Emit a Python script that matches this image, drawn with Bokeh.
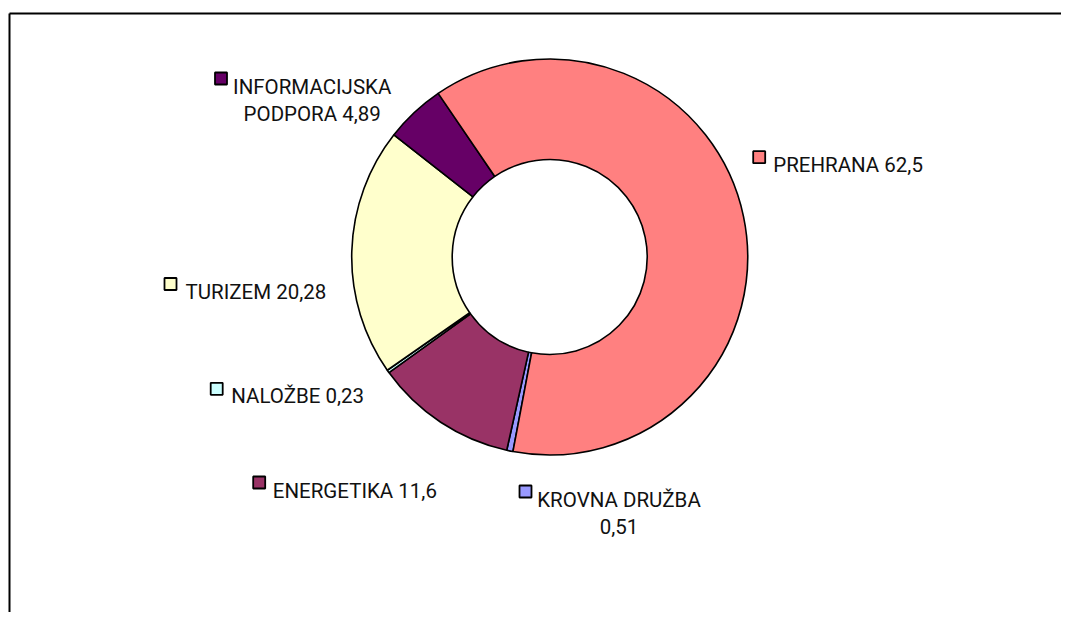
import math
from bokeh.plotting import figure
from bokeh.models import Range1d, ColumnDataSource
from bokeh.core.properties import value
from bokeh.embed import file_html
from bokeh.resources import INLINE

# ---- data (clockwise order as drawn) ----
categories = ["KROVNA DRUŽBA", "ENERGETIKA", "NALOŽBE", "TURIZEM", "INFORMACIJSKA PODPORA", "PREHRANA"]
values = [0.51, 11.6, 0.23, 20.28, 4.89, 62.5]
value_labels = ["0,51", "11,6", "0,23", "20,28", "4,89", "62,5"]
colors = ["#9999FF", "#993366", "#CCFFFF", "#FFFFCC", "#660066", "#FF8080"]

# ---- layout (page pixel coordinates) ----
W, H = 1061, 612
PAGE_H = 628
def Y(py):
    return PAGE_H - py

cx, cy = 549.2, 256.5
r_out, r_in = 198.0, 97.5
start_deg = 190.7  # clockwise from 12 o'clock

label_layout = [
    dict(mx=525.0, my=491.0, tx=618.5, ty=[499.3, 526.0], align="center", lines=["KROVNA DRUŽBA", "0,51"]),
    dict(mx=258.7, my=482.0, tx=272.3, ty=[490.0], align="left", lines=None),
    dict(mx=216.2, my=388.3, tx=230.7, ty=[395.7], align="left", lines=None),
    dict(mx=170.0, my=283.5, tx=185.0, ty=[291.7], align="left", lines=None),
    dict(mx=220.5, my=78.0, tx=311.7, ty=[86.0, 113.3], align="center", lines=["INFORMACIJSKA", "PODPORA 4,89"]),
    dict(mx=758.7, my=156.7, tx=772.7, ty=[164.0], align="left", lines=None),
]

# data coords == page pixels (y flipped)
p = figure(width=W, height=H, output_backend="svg", toolbar_location=None,
           x_range=Range1d(0, W), y_range=Range1d(PAGE_H - H, PAGE_H),
           min_border=0, outline_line_color=None)
p.axis.visible = False
p.grid.visible = False
p.background_fill_color = "white"
p.border_fill_color = "white"

# chart-area frame: only its left and top edges are inside the window
p.segment(x0=[9, 9], y0=[Y(13), Y(13)], x1=[9, 1300], y1=[Y(900), Y(13)],
          line_color="black", line_width=2)

# wedges
total = sum(values)
starts, ends = [], []
acc = start_deg
for v in values:
    a0 = acc
    a1 = acc + v / total * 360.0
    starts.append(math.radians(90.0 - a0))
    ends.append(math.radians(90.0 - a1))
    acc = a1

src = ColumnDataSource(dict(x=[cx] * len(values), y=[Y(cy)] * len(values),
                            start=starts, end=ends, color=colors))
p.annular_wedge(x="x", y="y", inner_radius=r_in, outer_radius=r_out,
                start_angle="start", end_angle="end", direction="clock",
                fill_color="color", line_color="black", line_width=1.6, source=src)

# labels
font = value("Roboto")
for cat, vl, col, lay in zip(categories, value_labels, colors, label_layout):
    p.scatter(x=[lay["mx"]], y=[Y(lay["my"])], marker="square", size=12,
              fill_color=col, line_color="black", line_width=1.8)
    lines = lay["lines"] if lay["lines"] else [f"{cat} {vl}"]
    for ln, by in zip(lines, lay["ty"]):
        p.text(x=[lay["tx"]], y=[Y(by)], text=[ln], text_font=font,
               text_font_size="20.5px", text_color="#111111",
               text_align=lay["align"], text_baseline="alphabetic")

open("out.html", "w").write(file_html(p, INLINE))
